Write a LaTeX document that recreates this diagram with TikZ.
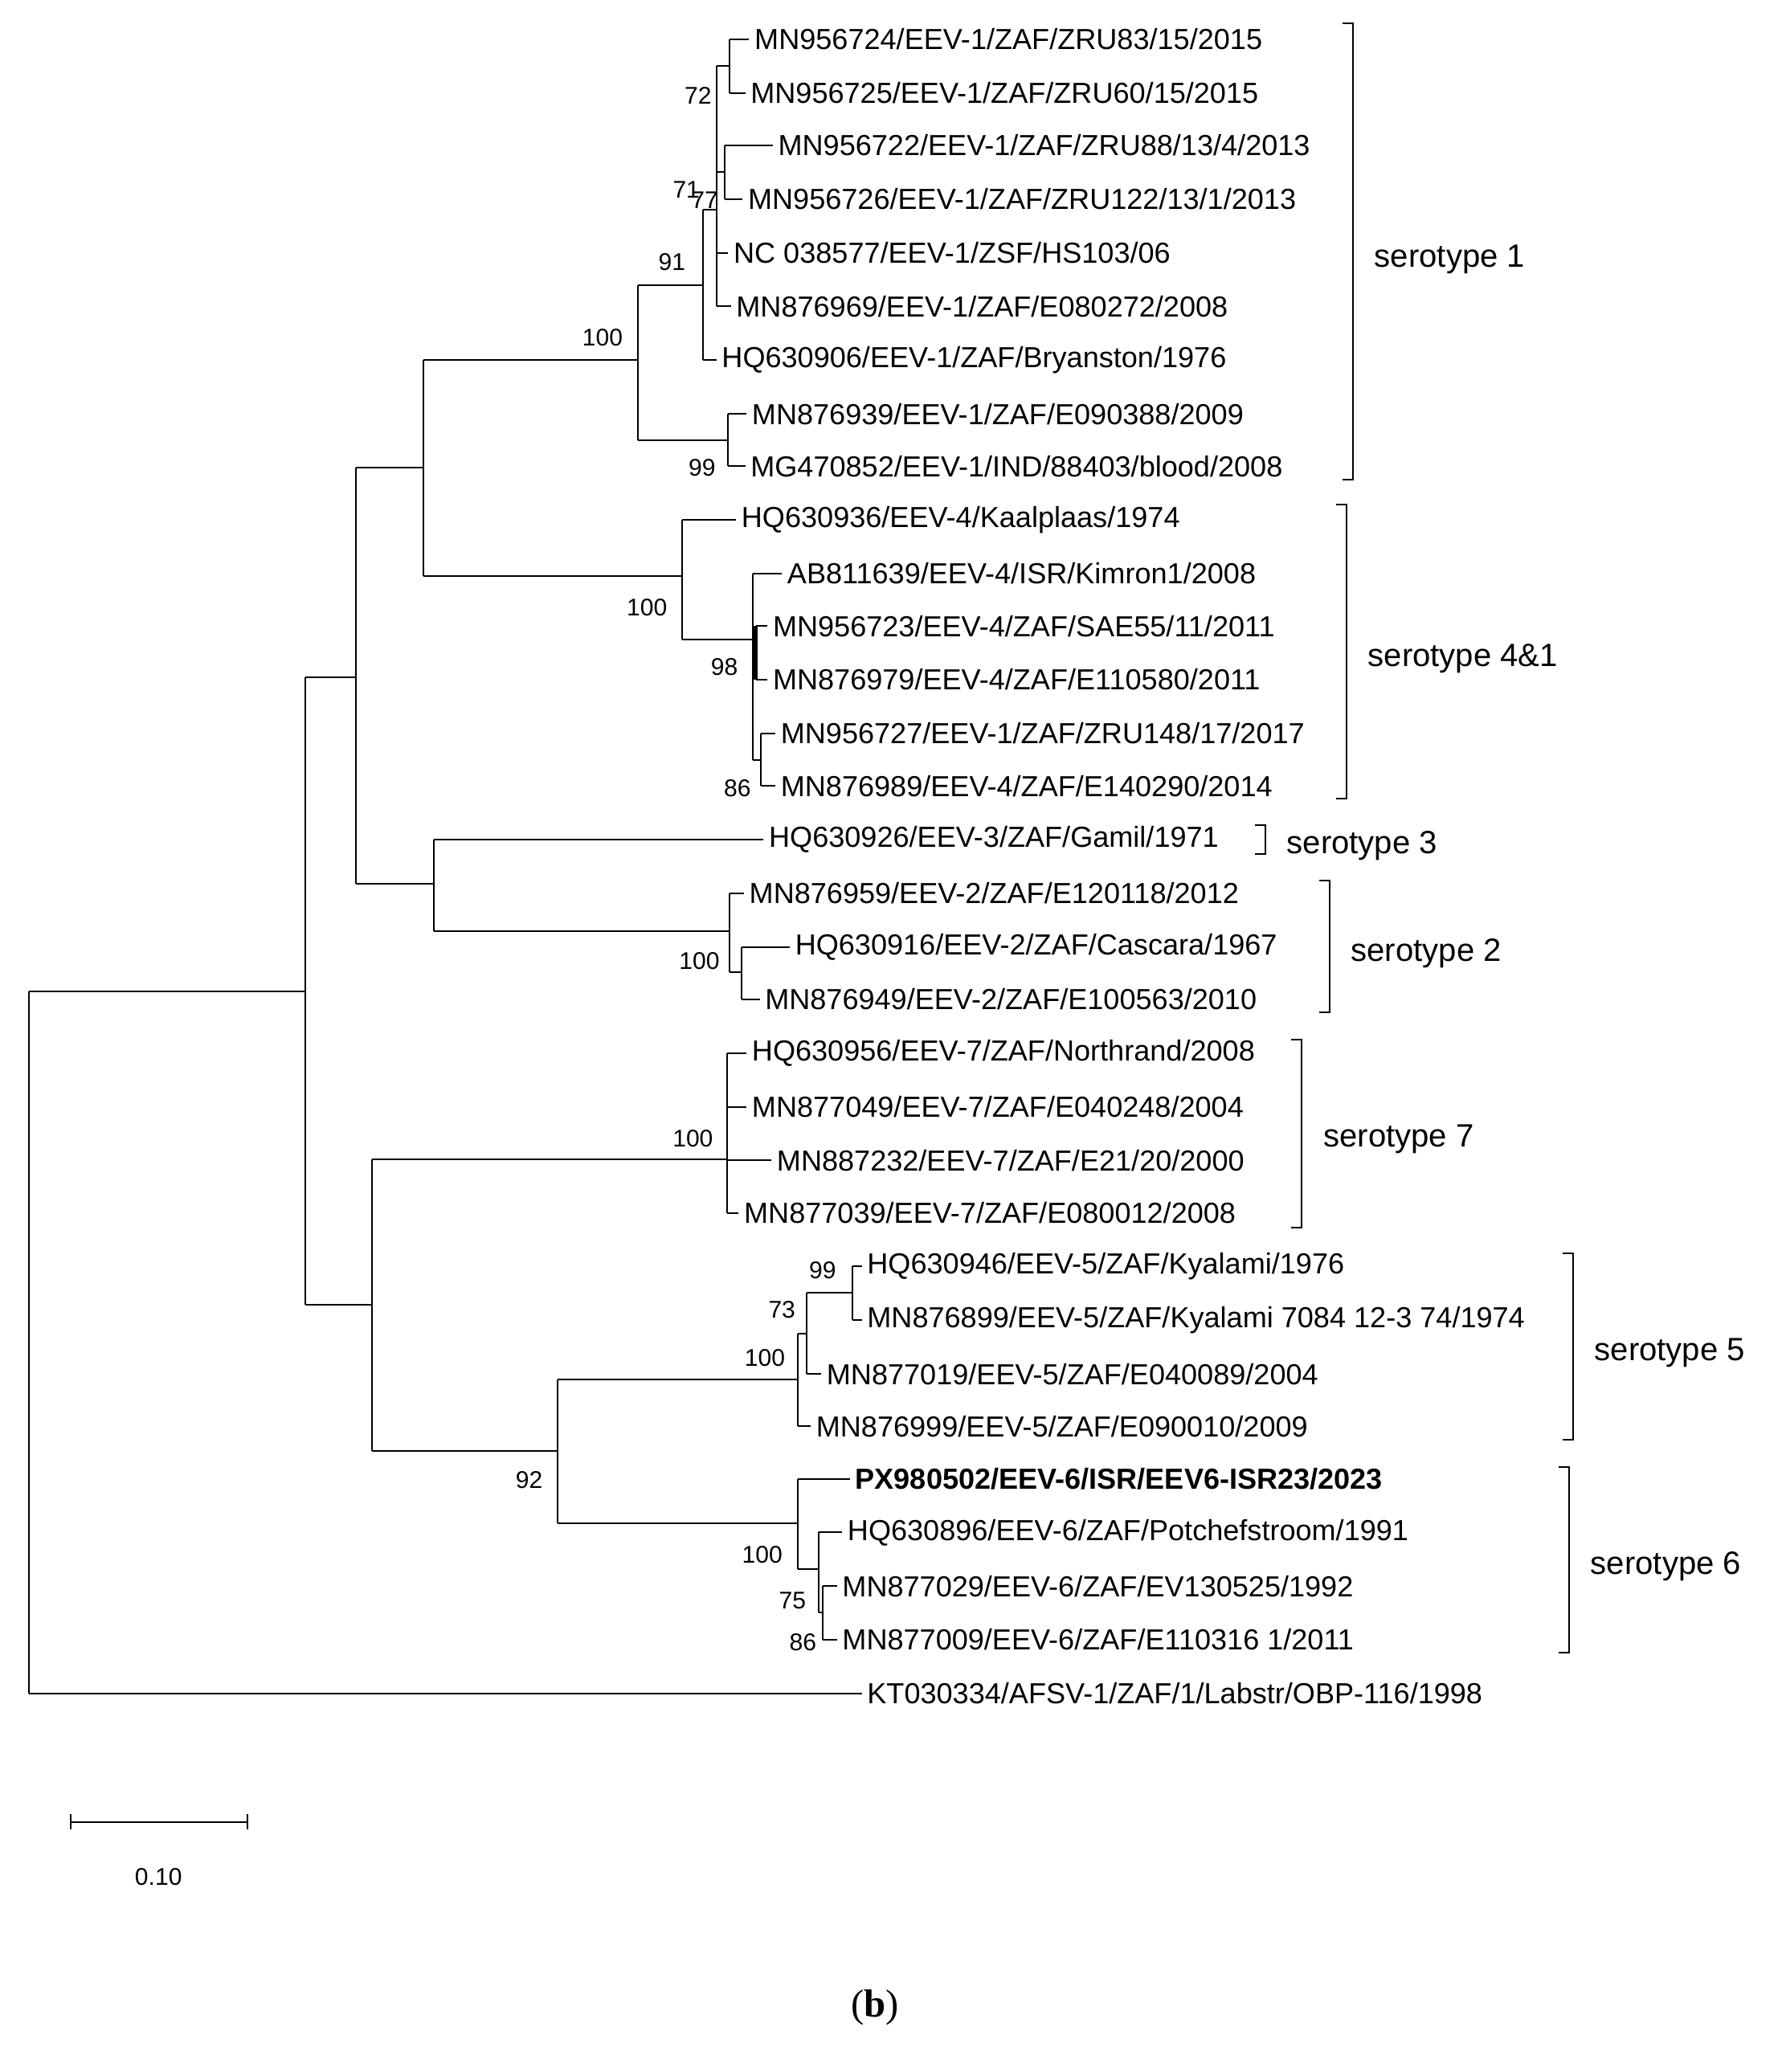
\documentclass[tikz,border=0pt]{standalone}
\usepackage{fontspec}
\setmainfont{Liberation Sans}
\newfontfamily\capfont{Liberation Serif}
\usetikzlibrary{positioning}
\begin{document}
\begin{tikzpicture}[x=0.02cm,y=-0.02cm,line width=0.7pt,
    leaf/.style={anchor=west,inner sep=2pt,font=\fontsize{12.6}{14}\selectfont},
    boot/.style={font=\fontsize{10.5}{12}\selectfont,inner sep=1pt},
    sero/.style={anchor=west,font=\fontsize{14}{16}\selectfont}]
\useasboundingbox (0,0) rectangle (1360,1582);
% leaves
\node[leaf] (l1) at (572,30) {MN956724/EEV-1/ZAF/ZRU83/15/2015};
\node[leaf] (l2) at (569,71) {MN956725/EEV-1/ZAF/ZRU60/15/2015};
\node[leaf] (l3) at (590,111) {MN956722/EEV-1/ZAF/ZRU88/13/4/2013};
\node[leaf] (l4) at (567,152) {MN956726/EEV-1/ZAF/ZRU122/13/1/2013};
\node[leaf] (l5) at (556,193) {NC 038577/EEV-1/ZSF/HS103/06};
\node[leaf] (l6) at (558,234) {MN876969/EEV-1/ZAF/E080272/2008};
\node[leaf] (l7) at (547,275) {HQ630906/EEV-1/ZAF/Bryanston/1976};
\node[leaf] (l8) at (570,316) {MN876939/EEV-1/ZAF/E090388/2009};
\node[leaf] (l9) at (569,356) {MG470852/EEV-1/IND/88403/blood/2008};
\node[leaf] (l10) at (562,397) {HQ630936/EEV-4/Kaalplaas/1974};
\node[leaf] (l11) at (597,438) {AB811639/EEV-4/ISR/Kimron1/2008};
\node[leaf] (l12) at (586,478) {MN956723/EEV-4/ZAF/SAE55/11/2011};
\node[leaf] (l13) at (586,519) {MN876979/EEV-4/ZAF/E110580/2011};
\node[leaf] (l14) at (592,560) {MN956727/EEV-1/ZAF/ZRU148/17/2017};
\node[leaf] (l15) at (592,600) {MN876989/EEV-4/ZAF/E140290/2014};
\node[leaf] (l16) at (583,641) {HQ630926/EEV-3/ZAF/Gamil/1971};
\node[leaf] (l17) at (568,682) {MN876959/EEV-2/ZAF/E120118/2012};
\node[leaf] (l18) at (603,723) {HQ630916/EEV-2/ZAF/Cascara/1967};
\node[leaf] (l19) at (580,763) {MN876949/EEV-2/ZAF/E100563/2010};
\node[leaf] (l20) at (570,804) {HQ630956/EEV-7/ZAF/Northrand/2008};
\node[leaf] (l21) at (570,845) {MN877049/EEV-7/ZAF/E040248/2004};
\node[leaf] (l22) at (589,886) {MN887232/EEV-7/ZAF/E21/20/2000};
\node[leaf] (l23) at (564,926) {MN877039/EEV-7/ZAF/E080012/2008};
\node[leaf] (l24) at (658,967) {HQ630946/EEV-5/ZAF/Kyalami/1976};
\node[leaf] (l25) at (658,1008) {MN876899/EEV-5/ZAF/Kyalami 7084 12-3 74/1974};
\node[leaf] (l26) at (627,1049) {MN877019/EEV-5/ZAF/E040089/2004};
\node[leaf] (l27) at (619,1089) {MN876999/EEV-5/ZAF/E090010/2009};
\node[leaf,font=\fontsize{12.6}{14}\selectfont\bfseries] (l28) at (649,1129) {PX980502/EEV-6/ISR/EEV6-ISR23/2023};
\node[leaf] (l29) at (643,1170) {HQ630896/EEV-6/ZAF/Potchefstroom/1991};
\node[leaf] (l30) at (639,1211) {MN877029/EEV-6/ZAF/EV130525/1992};
\node[leaf] (l31) at (639,1252) {MN877009/EEV-6/ZAF/E110316 1/2011};
\node[leaf] (l32) at (658,1293) {KT030334/AFSV-1/ZAF/1/Labstr/OBP-116/1998};

% serotype 1
\draw (557,30) -- (l1.west); \draw (557,71) -- (l2.west); \draw (557,30) -- (557,71);
\draw (553,111) -- (l3.west); \draw (553,152) -- (l4.west); \draw (553,111) -- (553,152);
\draw (547,50) -- (557,50); \draw (547,131) -- (553,131);
\draw (547,193) -- (l5.west); \draw (547,234) -- (l6.west); \draw (547,50) -- (547,234);
\draw (537,160) -- (547,160); \draw (537,275) -- (l7.west); \draw (537,160) -- (537,275);
\draw (556,316) -- (l8.west); \draw (556,356) -- (l9.west); \draw (556,316) -- (556,356);
\draw (487,218) -- (537,218); \draw (487,336) -- (556,336); \draw (487,218) -- (487,336);
% serotype 4&1
\draw (577,478) -- (l12.west); \draw (577,519) -- (l13.west); \draw[line width=1.5pt] (577,478) -- (577,519);
\draw (581,560) -- (l14.west); \draw (581,600) -- (l15.west); \draw (581,560) -- (581,600);
\draw (575,438) -- (l11.west); \draw (575,499) -- (577,499); \draw (575,580) -- (581,580); \draw (575,438) -- (575,580);
\draw (521,397) -- (l10.west); \draw (521,488) -- (575,488); \draw (521,397) -- (521,488);
\draw (323,275) -- (487,275); \draw (323,440) -- (521,440); \draw (323,275) -- (323,440);
% serotype 3 and 2
\draw (566,723) -- (l18.west); \draw (566,763) -- (l19.west); \draw (566,723) -- (566,763);
\draw (557,682) -- (l17.west); \draw (557,742) -- (566,742); \draw (557,682) -- (557,742);
\draw (331,641) -- (l16.west); \draw (331,711) -- (557,711); \draw (331,641) -- (331,711);
\draw (272,357) -- (323,357); \draw (272,675) -- (331,675); \draw (272,357) -- (272,675);
% serotype 7
\foreach \i/\y in {20/804,21/845,22/886,23/926} \draw (555,\y) -- (l\i.west);
\draw (555,804) -- (555,926);
% serotype 5
\draw (651,967) -- (l24.west); \draw (651,1008) -- (l25.west); \draw (651,967) -- (651,1008);
\draw (616,987) -- (651,987); \draw (616,1049) -- (l26.west); \draw (616,987) -- (616,1049);
\draw (609,1018) -- (616,1018); \draw (609,1089) -- (l27.west); \draw (609,1018) -- (609,1089);
% serotype 6
\draw (628,1211) -- (l30.west); \draw (628,1252) -- (l31.west); \draw (628,1211) -- (628,1252);
\draw (625,1170) -- (l29.west); \draw (625,1231) -- (628,1231); \draw (625,1170) -- (625,1231);
\draw (609,1129) -- (l28.west); \draw (609,1198) -- (625,1198); \draw (609,1129) -- (609,1198);
\draw (426,1053) -- (609,1053); \draw (426,1163) -- (609,1163); \draw (426,1053) -- (426,1163);
\draw (284,885) -- (555,885); \draw (284,1108) -- (426,1108); \draw (284,885) -- (284,1108);
% root
\draw (233,517) -- (272,517); \draw (233,996) -- (284,996); \draw (233,517) -- (233,996);
\draw (22,757) -- (233,757); \draw (22,1293) -- (l32.west); \draw (22,757) -- (22,1293);

% bootstrap values
\foreach \x/\y/\t in {533/73/72, 524/145/71, 538/153/77, 513/200/91, 460/258/100, 536/357/99,
    494/464/100, 553/509/98, 563/602/86, 534/734/100, 529/869/100, 628/970/99, 597/1000/73,
    584/1037/100, 404/1130/92, 582/1187/100, 605/1222/75, 613/1254/86}
  \node[boot] (b\x) at (\x,\y) {\t};

% serotype brackets
\foreach \x/\ya/\yb/\yt/\t in {1033/18/366/198/serotype 1, 1028/385/610/503/serotype 4\&1,
    966/630/652/646/serotype 3, 1015/672/773/728/serotype 2, 994/794/937/870/serotype 7,
    1201/957/1099/1033/serotype 5, 1198/1120/1262/1196/serotype 6}{
  \draw (\x-8,\ya) -- (\x,\ya) -- (\x,\yb) -- (\x-8,\yb);
  \node[sero] (s\x) at (\x+10,\yt) {\t};
}

% scale bar
\draw (54,1391) -- (189,1391); \draw (54,1385) -- (54,1397); \draw (189,1385) -- (189,1397);
\node[boot] (scale) at (121,1433) {0.10};
\node[font=\fontsize{17}{19}\selectfont\capfont] (cap) at (668,1533) {(\textbf{b})};
\end{tikzpicture}
\end{document}
